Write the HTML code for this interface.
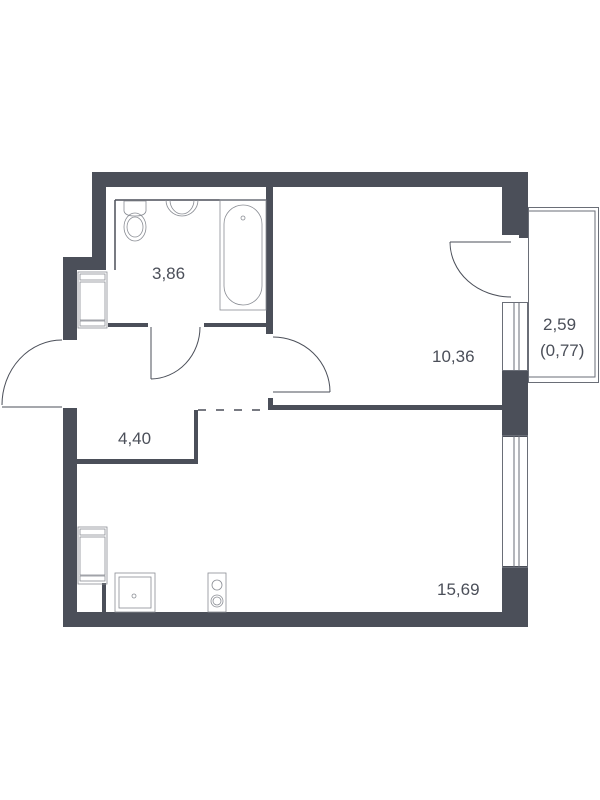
<!DOCTYPE html>
<html><head><meta charset="utf-8"><style>html,body{margin:0;padding:0;background:#fff}svg{display:block}text{font-family:"Liberation Sans",sans-serif;fill:#4b4f59;font-size:17px}</style></head><body>
<svg width="600" height="800" viewBox="0 0 600 800">
<g fill="#4b4f59">
<rect x="92" y="172" width="436" height="15"/>
<rect x="92" y="172" width="14" height="98"/>
<rect x="63" y="257" width="43" height="13"/>
<rect x="63" y="257" width="14" height="83"/>
<rect x="266" y="186" width="7" height="148"/>
<rect x="268" y="398" width="5" height="12"/>
<rect x="108" y="323" width="40" height="4"/>
<rect x="204" y="323" width="69" height="4"/>
<rect x="63" y="408" width="14" height="219"/>
<rect x="63" y="612" width="465" height="15"/>
<rect x="77" y="459" width="121" height="5"/>
<rect x="194" y="410" width="4" height="54"/>
<rect x="268" y="405" width="236" height="5"/>
<rect x="502" y="172" width="26" height="63"/>
<rect x="519" y="235" width="9" height="3"/>
<rect x="502" y="370" width="26" height="67"/>
<rect x="502" y="566" width="26" height="61"/>
<rect x="102" y="583" width="4" height="30"/>
</g>
<g fill="none" stroke="#4b4f59" stroke-width="1">
<line x1="115" y1="200" x2="267" y2="200" stroke-width="1.5"/>
<line x1="115" y1="200" x2="115" y2="270" stroke-width="1.5"/>
<line x1="198" y1="410" x2="268" y2="410" stroke-width="1.5" stroke-dasharray="8 10"/>
<line x1="151" y1="327" x2="151" y2="379"/>
<path d="M151 379 A50 52 0 0 0 200 327"/>
<line x1="273" y1="392" x2="330" y2="392"/>
<path d="M273 337 A57 55 0 0 1 330 392"/>
<line x1="2" y1="407" x2="62" y2="407"/>
<path d="M2 405 A60 65 0 0 1 62 340"/>
<line x1="450" y1="242" x2="511" y2="242"/>
<path d="M450 242 A61 55 0 0 0 511 297"/>
</g>
<g fill="none" stroke="#6a6e77" stroke-width="1">
<rect x="502.5" y="302.5" width="25" height="68"/>
<line x1="514" y1="302" x2="514" y2="370"/><line x1="519" y1="302" x2="519" y2="370"/>
<rect x="502.5" y="435.5" width="25" height="132"/>
<line x1="514" y1="435" x2="514" y2="567"/><line x1="519" y1="435" x2="519" y2="567"/>
<rect x="528.5" y="207.5" width="70" height="175"/>
<polyline points="528,211 595,211 595,377 528,377"/>
</g>
<g fill="none" stroke="#8a8d94" stroke-width="0.8">
<rect x="220" y="200" width="46" height="110"/>
<rect x="224" y="205" width="38" height="100" rx="19"/>
<circle cx="243" cy="218" r="2"/>
<path d="M124 201 h22 v10 q-1 5 -11 5 q-10 0 -11 -5z"/>
<ellipse cx="135" cy="227" rx="11" ry="14"/><ellipse cx="135" cy="227" rx="8" ry="10"/>
<path d="M166 200 a16 16 0 0 0 32 0"/><path d="M170 200 a12 14 0 0 0 24 0"/>
<rect x="78" y="272" width="29" height="56"/><rect x="80" y="274" width="25" height="6"/><rect x="80" y="282" width="25" height="38"/><rect x="80" y="321" width="25" height="5"/>
<rect x="78" y="527" width="29" height="57"/><rect x="80" y="529" width="25" height="6"/><rect x="80" y="537" width="25" height="38"/><rect x="80" y="576" width="25" height="5"/>
<rect x="115" y="573" width="40" height="39"/><rect x="119" y="577" width="32" height="31"/><circle cx="134" cy="596" r="2"/>
<rect x="208" y="573" width="18" height="39"/><circle cx="217" cy="585" r="5"/><circle cx="217" cy="601" r="6"/><circle cx="217" cy="601" r="4"/>
</g>
<text x="152" y="279">3,86</text>
<text x="432" y="362">10,36</text>
<text x="543" y="330">2,59</text>
<text x="540" y="356">(0,77)</text>
<text x="118" y="444">4,40</text>
<text x="437" y="595">15,69</text>
</svg>
</body></html>
